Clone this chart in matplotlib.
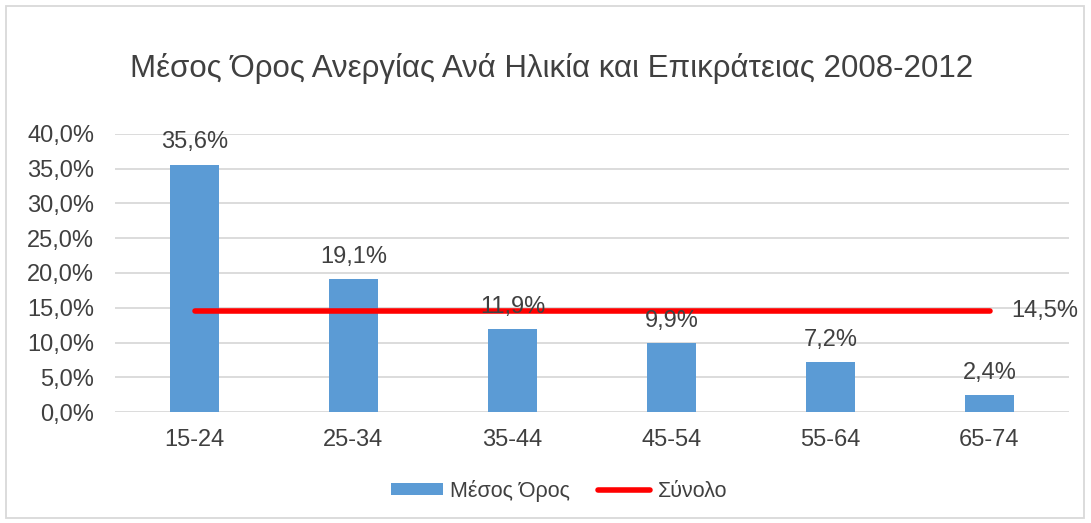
import matplotlib
matplotlib.use("Agg")
import matplotlib.pyplot as plt
from matplotlib.patches import Rectangle
from matplotlib.lines import Line2D
from matplotlib.patches import Patch

categories = ["15-24", "25-34", "35-44", "45-54", "55-64", "65-74"]
mean_values = [35.6, 19.1, 11.9, 9.9, 7.2, 2.4]
total_values = [14.5, 14.5, 14.5, 14.5, 14.5, 14.5]
yticks = [0, 5, 10, 15, 20, 25, 30, 35, 40]
title = "Μέσος Όρος Ανεργίας Ανά Ηλικία και Επικράτειας 2008-2012"
series_names = ["Μέσος Όρος", "Σύνολο"]

plt.rcParams['font.family'] = ['Liberation Sans', 'DejaVu Sans']
txt = '#404040'
fs = 17
lfs = 15.5

fig = plt.figure(figsize=(10.91, 5.23), dpi=100)
ax = fig.add_axes([115/1091, 1-412/523, (1069-115)/1091, (412-134)/523])

x = list(range(len(categories)))
bars = ax.bar(x, mean_values, width=0.31, color='#5b9bd5', zorder=2)
ax.plot(x, total_values, color='#ff0000', lw=4, solid_capstyle='round', zorder=3)

def fmt(v):
    return f"{v:.1f}".replace('.', ',') + '%'

for xi, v in zip(x, mean_values):
    ax.annotate(fmt(v), (xi, v), xytext=(0, 8), textcoords='offset points',
                ha='center', va='bottom', fontsize=fs, color=txt, zorder=4)
ax.annotate(fmt(total_values[-1]), (x[-1], total_values[-1]), xytext=(16, 0),
            textcoords='offset points', ha='left', va='center', fontsize=fs, color=txt)

ax.set_xlim(-0.5, len(categories) - 0.5)
ax.set_ylim(0, 40)
ax.set_yticks(yticks)
ax.set_yticklabels([fmt(t) for t in yticks], fontsize=fs, color=txt)
ax.set_xticks(x)
ax.set_xticklabels(categories, fontsize=fs, color=txt)
ax.tick_params(axis='y', length=0, pad=15)
ax.tick_params(axis='x', length=0, pad=12)
ax.grid(axis='y', color='#d9d9d9', lw=1.3, zorder=0)
for s in ax.spines.values():
    s.set_visible(False)

fig.text(552/1091, 1-68/523, title, ha='center', va='center', fontsize=22.5, color=txt)

handles = [Patch(facecolor='#5b9bd5', edgecolor='none'),
           Line2D([0], [0], color='#ff0000', lw=4, solid_capstyle='round')]
fig.legend(handles, series_names, loc='center', bbox_to_anchor=(559/1091, 1-491/523),
           ncol=2, frameon=False, fontsize=lfs, handlelength=2.4, handleheight=0.5,
           columnspacing=1.3, handletextpad=0.35, labelcolor=txt)

fig.patches.append(Rectangle((6/1091, 1-518/523), 1078/1091, 512/523, transform=fig.transFigure,
                             fill=False, edgecolor='#d9d9d9', lw=1.3))

fig.savefig('out.png', dpi=100)
